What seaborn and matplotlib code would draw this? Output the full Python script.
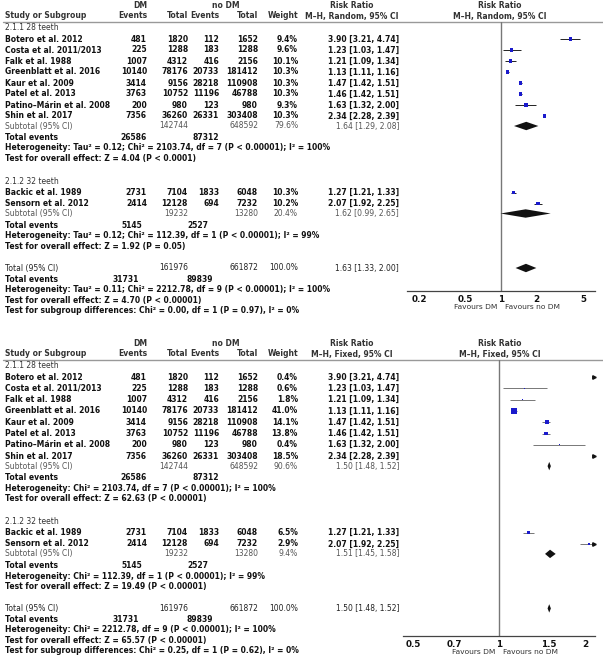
import numpy as np
import pandas as pd
import matplotlib.pyplot as plt
from matplotlib.patches import Polygon
from matplotlib.ticker import NullLocator, FixedLocator, FixedFormatter
import seaborn as sns

sns.set_style("white")
plt.rcParams['font.family'] = ['DejaVu Sans']

# ---- data ----
studies_28 = ["Botero et al. 2012", "Costa et al. 2011/2013", "Falk et al. 1988",
              "Greenblatt et al. 2016", "Kaur et al. 2009", "Patel et al. 2013",
              "Patino–Márin et al. 2008", "Shin et al. 2017"]
dm_events_28 = [481, 225, 1007, 10140, 3414, 3763, 200, 7356]
dm_total_28 = [1820, 1288, 4312, 78176, 9156, 10752, 980, 36260]
nodm_events_28 = [112, 183, 416, 20733, 28218, 11196, 123, 26331]
nodm_total_28 = [1652, 1288, 2156, 181412, 110908, 46788, 980, 303408]
rr_28 = [3.90, 1.23, 1.21, 1.13, 1.47, 1.46, 1.63, 2.34]
lo_28 = [3.21, 1.03, 1.09, 1.11, 1.42, 1.42, 1.32, 2.28]
hi_28 = [4.74, 1.47, 1.34, 1.16, 1.51, 1.51, 2.00, 2.39]
w_random_28 = [9.4, 9.6, 10.1, 10.3, 10.3, 10.3, 9.3, 10.3]
w_fixed_28 = [0.4, 0.6, 1.8, 41.0, 14.1, 13.8, 0.4, 18.5]

studies_32 = ["Backic et al. 1989", "Sensorn et al. 2012"]
dm_events_32 = [2731, 2414]
dm_total_32 = [7104, 12128]
nodm_events_32 = [1833, 694]
nodm_total_32 = [6048, 7232]
rr_32 = [1.27, 2.07]
lo_32 = [1.21, 1.92]
hi_32 = [1.33, 2.25]
w_random_32 = [10.3, 10.2]
w_fixed_32 = [6.5, 2.9]

# subtotal / total: [rr, lo, hi, weight]
random_sub28 = [1.64, 1.29, 2.08, 79.6]
random_sub32 = [1.62, 0.99, 2.65, 20.4]
random_total = [1.63, 1.33, 2.00, 100.0]
fixed_sub28 = [1.50, 1.48, 1.52, 90.6]
fixed_sub32 = [1.51, 1.45, 1.58, 9.4]
fixed_total = [1.50, 1.48, 1.52, 100.0]

sub_totals_28 = [142744, 648592]
sub_totals_32 = [19232, 13280]
grand_totals = [161976, 661872]
events_28 = [26586, 87312]
events_32 = [5145, 2527]
events_all = [31731, 89839]

random_notes = [
    "Heterogeneity: Tau² = 0.12; Chi² = 2103.74, df = 7 (P < 0.00001); I² = 100%",
    "Test for overall effect: Z = 4.04 (P < 0.0001)",
    "Heterogeneity: Tau² = 0.12; Chi² = 112.39, df = 1 (P < 0.00001); I² = 99%",
    "Test for overall effect: Z = 1.92 (P = 0.05)",
    "Heterogeneity: Tau² = 0.11; Chi² = 2212.78, df = 9 (P < 0.00001); I² = 100%",
    "Test for overall effect: Z = 4.70 (P < 0.00001)",
    "Test for subgroup differences: Chi² = 0.00, df = 1 (P = 0.97), I² = 0%",
]
fixed_notes = [
    "Heterogeneity: Chi² = 2103.74, df = 7 (P < 0.00001); I² = 100%",
    "Test for overall effect: Z = 62.63 (P < 0.00001)",
    "Heterogeneity: Chi² = 112.39, df = 1 (P < 0.00001); I² = 99%",
    "Test for overall effect: Z = 19.49 (P < 0.00001)",
    "Heterogeneity: Chi² = 2212.78, df = 9 (P < 0.00001); I² = 100%",
    "Test for overall effect: Z = 65.57 (P < 0.00001)",
    "Test for subgroup differences: Chi² = 0.25, df = 1 (P = 0.62), I² = 0%",
]

W, H = 603, 664
FS = 5.5
BLACK = "#111111"
GREY = "#555555"
DARK = "#333333"
BLUE = "#1a1acc"

fig = plt.figure(figsize=(W / 100, H / 100), dpi=100)
tx = fig.add_axes([0, 0, 1, 1])
tx.set_xlim(0, W)
tx.set_ylim(H, 0)
tx.axis("off")


def txt(x, y, s, ha="left", bold=True, color=BLACK, size=FS):
    tx.text(x, y, s, ha=ha, va="center", fontsize=size,
            fontweight="bold" if bold else "normal", color=color)


def forest(ax, rows, rr, lo, hi, w, xlim, scale, line_color):
    xmin, xmax = xlim
    df = pd.DataFrame({"rr": rr, "lo": lo, "hi": hi, "w": w, "y": rows})
    for _, r in df.iterrows():
        if r.lo >= xmax:
            ax.plot([xmax * 0.995], [r.y], marker=">", ms=2.5, color=BLACK, clip_on=False)
            continue
        ax.plot([r.lo, min(r.hi, xmax)], [r.y, r.y], color=line_color, lw=0.7,
                solid_capstyle="butt")
        if r.hi > xmax:
            ax.plot([xmax * 0.995], [r.y], marker=">", ms=2.5, color=BLACK, clip_on=False)
    inside = df[df.rr < xmax]
    side = np.clip(scale * np.sqrt(inside.w), 1.2, None) * 0.72
    sns.scatterplot(data=inside, x="rr", y="y", marker="s", s=side ** 2,
                    color=BLUE, linewidth=0, ax=ax, legend=False, zorder=3)


def diamond(ax, y, vals, h=4.2):
    rr, lo, hi, _ = vals
    ax.add_patch(Polygon([(lo, y), (rr, y - h), (hi, y), (rr, y + h)],
                         closed=True, color=BLACK, lw=0, zorder=4))


def summary_row(y, label, totals, vals, color):
    c_ev1, c_tot1, c_ev2, c_tot2, c_w, c_rr = COLS
    txt(5, y, label, bold=False, color=color)
    txt(c_tot1, y, str(totals[0]), ha="right", bold=False, color=color)
    txt(c_tot2, y, str(totals[1]), ha="right", bold=False, color=color)
    txt(c_w, y, f"{vals[3]:.1f}%", ha="right", bold=False, color=color)
    txt(c_rr, y, f"{vals[0]:.2f} [{vals[1]:.2f}, {vals[2]:.2f}]", ha="right",
        bold=False, color=color)


def study_rows(rows, names, e1, t1, e2, t2, w, rr, lo, hi):
    for i, y in enumerate(rows):
        txt(5, y, names[i])
        for x, v in zip(COLS[:4], [e1[i], t1[i], e2[i], t2[i]]):
            txt(x, y, str(v), ha="right")
        txt(COLS[4], y, f"{w[i]:.1f}%", ha="right")
        txt(COLS[5], y, f"{rr[i]:.2f} [{lo[i]:.2f}, {hi[i]:.2f}]", ha="right")


COLS = [147, 188, 219, 258, 298, 399]


def panel(y0, step, model, w28, w32, sub28, sub32, total, notes, fx, xlim,
          ticks, axis_y, fav_y, line_color):
    # headers
    txt(140, y0 + 6, "DM", ha="center", color=DARK)
    txt(226, y0 + 6, "no DM", ha="center", color=DARK)
    txt(5, y0 + 16, "Study or Subgroup", color=DARK)
    for x, s in zip(COLS[:5], ["Events", "Total", "Events", "Total", "Weight"]):
        txt(x, y0 + 16, s, ha="right", color=DARK)
    txt(352, y0 + 5, "Risk Ratio", ha="center", color=DARK)
    txt(352, y0 + 16, f"M–H, {model}, 95% CI", ha="center", color=DARK)
    txt(500, y0 + 5, "Risk Ratio", ha="center", color=DARK)
    txt(500, y0 + 16, f"M–H, {model}, 95% CI", ha="center", color=DARK)
    tx.plot([3, W], [y0 + 22, y0 + 22], color="#999999", lw=1)

    # forest axes placed in figure pixel space
    L, R = fx
    ax = fig.add_axes([L / W, 1 - axis_y / H, (R - L) / W, (axis_y - y0 - 22) / H])
    ax.patch.set_alpha(0)
    ax.set_xscale("log")

    # subgroup 1
    txt(5, y0 + 27, "2.1.1 28 teeth", bold=False, color=DARK)
    rows28 = [y0 + 39 + step * i for i in range(len(studies_28))]
    study_rows(rows28, studies_28, dm_events_28, dm_total_28, nodm_events_28,
               nodm_total_28, w28, rr_28, lo_28, hi_28)
    forest(ax, rows28, rr_28, lo_28, hi_28, w28, xlim, 1.05, line_color)
    y = rows28[-1] + 10
    summary_row(y, "Subtotal (95% CI)", sub_totals_28, sub28, GREY)
    diamond(ax, y, sub28)
    y += 11
    txt(5, y, "Total events")
    txt(147, y, str(events_28[0]), ha="right")
    txt(219, y, str(events_28[1]), ha="right")
    txt(5, y + 11, notes[0])
    txt(5, y + 21.5, notes[1])

    # subgroup 2
    y = y + 21.5 + 23
    txt(5, y, "2.1.2 32 teeth", bold=False, color=DARK)
    rows32 = [y + 11 + step * i for i in range(len(studies_32))]
    study_rows(rows32, studies_32, dm_events_32, dm_total_32, nodm_events_32,
               nodm_total_32, w32, rr_32, lo_32, hi_32)
    forest(ax, rows32, rr_32, lo_32, hi_32, w32, xlim, 1.05, line_color)
    y = rows32[-1] + 10
    summary_row(y, "Subtotal (95% CI)", sub_totals_32, sub32, GREY)
    diamond(ax, y, sub32)
    y += 11.5
    txt(5, y, "Total events")
    txt(142, y, str(events_32[0]), ha="right")
    txt(208, y, str(events_32[1]), ha="right")
    txt(5, y + 11, notes[2])
    txt(5, y + 21.5, notes[3])

    # overall
    y = y + 21.5 + 21.5
    summary_row(y, "Total (95% CI)", grand_totals, total, "#222222")
    diamond(ax, y, total)
    y += 11
    txt(5, y, "Total events")
    txt(139, y, str(events_all[0]), ha="right")
    txt(213, y, str(events_all[1]), ha="right")
    txt(5, y + 10.5, notes[4])
    txt(5, y + 21, notes[5])
    txt(5, y + 31.5, notes[6])

    # axis styling
    ax.set_xlim(xlim)
    ax.set_ylim(axis_y, y0 + 22)
    for sp in ["top", "left", "right"]:
        ax.spines[sp].set_visible(False)
    ax.spines["bottom"].set_color("#444444")
    ax.spines["bottom"].set_linewidth(0.9)
    ax.set_yticks([])
    ax.xaxis.set_major_locator(FixedLocator(ticks))
    ax.xaxis.set_major_formatter(FixedFormatter([f"{t:g}" for t in ticks]))
    ax.xaxis.set_minor_locator(NullLocator())
    ax.tick_params(axis="x", direction="inout", length=5, width=0.8, color="#444444",
                   labelsize=6.3, pad=0.5)
    for lab in ax.get_xticklabels():
        lab.set_fontweight("bold")
        lab.set_color(BLACK)
    ax.axvline(1, color="#777777", lw=1, zorder=1)
    ax.set_xlabel("")
    ax.set_ylabel("")
    x1 = L + (R - L) * (0 - np.log10(xlim[0])) / (np.log10(xlim[1]) - np.log10(xlim[0]))
    txt(x1 - 4, fav_y, "Favours DM", ha="right", bold=False, color=DARK, size=5.4)
    txt(x1 + 4, fav_y, "Favours no DM", ha="left", bold=False, color=DARK, size=5.4)


panel(0, 11, "Random", w_random_28, w_random_32, random_sub28, random_sub32, random_total,
      random_notes, (407, 595), (0.158, 6.32), [0.2, 0.5, 1, 2, 5], 291, 307, "#222222")

panel(338, 11.3, "Fixed", w_fixed_28, w_fixed_32, fixed_sub28, fixed_sub32, fixed_total,
      fixed_notes, (403, 595), (0.461, 2.17), [0.5, 0.7, 1, 1.5, 2], 636, 652, "#777777")

fig.savefig("out.png", dpi=100)
